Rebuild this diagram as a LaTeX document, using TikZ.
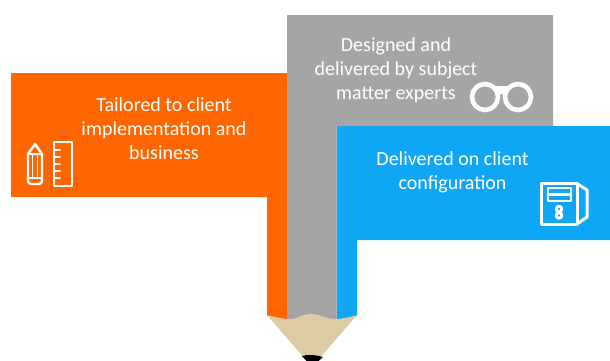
\documentclass[tikz,border=0pt]{standalone}
\usepackage{fontspec}
\setmainfont{Carlito}
\definecolor{pencilorange}{HTML}{FF6600}
\definecolor{pencilgray}{HTML}{A5A5A5}
\definecolor{pencilblue}{HTML}{0FA6F5}
\definecolor{pencilwood}{HTML}{DDCBA4}
\begin{document}
\begin{tikzpicture}[x=1pt,y=-1pt]
    \tikzstyle{every node}=[align=center,text=white,inner sep=0pt,font=\fontsize{20}{24.3}\selectfont];
    \tikzstyle{icon}=[draw=white,line width=2.4pt,line join=round,line cap=round];
    \tikzstyle{iconthick}=[draw=white,line width=4.6pt];
    \useasboundingbox (0, 0) rectangle (610, 360);
    \clip (0, 0) rectangle (610, 360);
    \fill[white] (0, 0) rectangle (610, 360);
    % pencil body
    \fill[pencilorange] (11, 73) -- (288, 73) -- (288, 320) -- (267, 316) -- (267, 197) -- (11, 197) -- cycle;
    \fill[pencilblue] (336.5, 126) -- (610, 126) -- (610, 240) -- (357, 240) -- (357, 316) -- (336.5, 320) -- cycle;
    \fill[pencilgray] (287, 15) -- (553, 15) -- (553, 126) -- (336.5, 126) -- (336.5, 320) -- (287, 320) -- cycle;
    % tip
    \fill[pencilwood] (267, 315) .. controls (275, 317) and (282, 319) .. (290, 319) .. controls (298, 319) and (302, 314) .. (311, 314) .. controls (320, 314) and (326, 319) .. (335, 319) .. controls (343, 319) and (350, 317) .. (357, 315) -- (312, 367) -- cycle;
    \fill[black] (302, 356) .. controls (309, 354) and (316, 355) .. (323, 357) -- (312, 367) -- cycle;
    % texts
    \node at (164, 128.5) (tailored) {Tailored to client\\implementation and\\business};
    \node at (396, 70) (designed) {Designed and\\delivered by subject\\matter experts};
    \node at (452.5, 172) (delivered) {Delivered on client\\configuration};
    % pencil and ruler
    \draw[icon] (28, 154) -- (35, 144) -- (42, 154) -- (42, 179) .. controls (42, 183) and (41, 184) .. (39, 184) -- (31, 184) .. controls (29, 184) and (28, 183) .. (28, 179) -- cycle;
    \draw[icon,line width=1.8pt] (28, 154) -- (42, 154) (28, 178) -- (42, 178) (32.5, 154) -- (32.5, 178) (37.5, 154) -- (37.5, 178);
    \draw[icon] (54, 142) rectangle (72, 186);
    \draw[icon,line width=1.8pt] (54, 150) -- (60, 150) (54, 157) -- (60, 157) (54, 164) -- (60, 164) (54, 171) -- (60, 171) (54, 178) -- (60, 178);
    % glasses
    \draw[iconthick] (485, 97) circle (13);
    \draw[iconthick] (518, 97) circle (13);
    \draw[iconthick] (495, 88) -- (508, 88);
    \fill[white] (501.5, 91) circle (3.5);
    % floppy
    \draw[icon,line width=3pt] (541.5, 183.5) -- (577, 183.5) -- (577, 224) -- (541.5, 224) -- cycle;
    \draw[icon,line width=3pt] (577, 183.5) -- (587, 190) -- (587, 217) -- (577, 224);
    \draw[icon,line width=2.6pt] (548, 188) rectangle (571, 201);
    \draw[icon,line width=2.6pt] (548, 194.5) -- (571, 194.5);
    \draw[icon,line width=3pt] (559, 209) circle (2.8);
    \draw[icon,line width=3pt] (559, 215.5) circle (2.8);
\end{tikzpicture}
\end{document}
